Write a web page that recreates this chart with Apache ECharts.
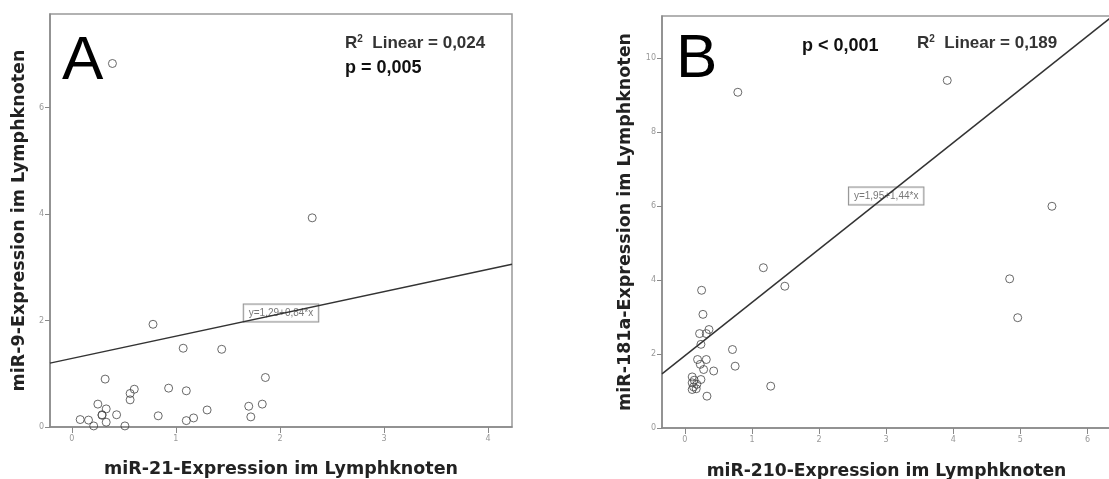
<!DOCTYPE html>
<html><head><meta charset="utf-8">
<script src="https://cdn.jsdelivr.net/npm/echarts@6/dist/echarts.min.js"></script>
<style>html,body{margin:0;padding:0;background:#fff}#c{width:1109px;height:479px}</style>
</head><body><div id="c"></div>
<script>
// Panel A data: miR-21 (x) vs miR-9 (y)
const aX = [0.39, 2.31, 0.78, 1.07, 1.44, 0.32, 1.86, 0.60, 0.56, 0.56, 0.93, 1.10, 0.25, 0.33, 0.29, 0.29, 0.43, 1.30, 1.70, 1.83, 1.72, 0.83, 1.17, 1.10, 0.08, 0.16, 0.33, 0.21, 0.51];
const aY = [6.83, 3.93, 1.93, 1.48, 1.46, 0.90, 0.93, 0.71, 0.63, 0.51, 0.73, 0.68, 0.43, 0.34, 0.23, 0.22, 0.23, 0.32, 0.39, 0.43, 0.19, 0.21, 0.17, 0.12, 0.14, 0.13, 0.09, 0.02, 0.02];
const aLineX = [-0.21, 4.23];
const aLineY = [1.20, 3.06];
const aEqPos = [2.01, 2.14];
const aEqText = 'y=1,29+0,84*x';
const aXTicks = [0, 1, 2, 3, 4];
const aYTicks = [0, 2, 4, 6];

// Panel B data: miR-210 (x) vs miR-181a (y)
const bX = [0.79, 3.91, 5.47, 1.17, 1.49, 4.84, 4.96, 0.25, 0.27, 0.36, 0.22, 0.32, 0.24, 0.71, 0.75, 0.19, 0.32, 0.23, 0.43, 0.28, 0.24, 0.11, 0.11, 0.13, 0.11, 0.17, 0.14, 0.18, 0.33, 1.28];
const bY = [9.07, 9.39, 5.99, 4.33, 3.83, 4.03, 2.98, 3.72, 3.07, 2.66, 2.55, 2.55, 2.26, 2.12, 1.67, 1.85, 1.85, 1.72, 1.54, 1.58, 1.31, 1.38, 1.22, 1.11, 1.04, 1.06, 1.29, 1.18, 0.86, 1.13];
const bLineX = [-0.34, 6.35];
const bLineY = [1.46, 11.09];
const bEqPos = [3.0, 6.27];
const bEqText = 'y=1,95+1,44*x';
const bXTicks = [0, 1, 2, 3, 4, 5, 6];
const bYTicks = [0, 2, 4, 6, 8, 10];

const zip = (xs, ys) => xs.map((x, i) => [x, ys[i]]);
const FONT = 'Liberation Sans, Arial, sans-serif';
const NFONT = 'DejaVu Sans, Verdana, sans-serif';

function xAxis(idx, min, max, ticks, name, gap, fs) {
  return {
    type: 'value', gridIndex: idx, min, max,
    name, nameLocation: 'middle', nameGap: gap,
    nameTextStyle: { fontSize: fs, fontWeight: 'bold', color: '#222', fontFamily: NFONT },
    axisLine: { show: true, onZero: false, lineStyle: { color: '#888', width: 1.5 } },
    axisTick: { show: true, customValues: ticks, length: 6, lineStyle: { color: '#888' } },
    axisLabel: { customValues: ticks, fontSize: 8, color: '#999', margin: 8, fontFamily: NFONT },
    splitLine: { show: false }
  };
}
function yAxis(idx, min, max, ticks, name, gap) {
  return {
    type: 'value', gridIndex: idx, min, max,
    name, nameLocation: 'middle', nameGap: gap,
    nameTextStyle: { fontSize: 17.5, fontWeight: 'bold', color: '#222', fontFamily: NFONT },
    axisLine: { show: true, onZero: false, lineStyle: { color: '#888', width: 1.5 } },
    axisTick: { show: true, customValues: ticks, length: 5, lineStyle: { color: '#888' } },
    axisLabel: { customValues: ticks, fontSize: 8, color: '#999', margin: 6, fontFamily: NFONT },
    splitLine: { show: false }
  };
}
function scatter(idx, data) {
  return {
    type: 'scatter', xAxisIndex: idx, yAxisIndex: idx, data, symbol: 'circle', symbolSize: 8,
    itemStyle: { color: 'rgba(0,0,0,0)', borderColor: '#444', borderWidth: 1 }, silent: true
  };
}
function line(idx, data) {
  return {
    type: 'line', xAxisIndex: idx, yAxisIndex: idx, data, symbol: 'none', clip: true,
    lineStyle: { color: '#333', width: 1.5 }, silent: true
  };
}
function eq(idx, pos, text) {
  return {
    type: 'scatter', xAxisIndex: idx, yAxisIndex: idx, data: [pos], symbolSize: 0, silent: true,
    label: { show: true, position: 'inside', formatter: text, fontSize: 10, color: '#555', fontFamily: FONT,
      backgroundColor: '#fff', borderColor: '#777', borderWidth: 1, padding: [4, 5, 3, 5] }
  };
}

const rich = {
  a: { fontSize: 17, fontWeight: 'bold', color: '#333', fontFamily: FONT },
  s: { fontSize: 10, color: '#333', fontFamily: FONT, verticalAlign: 'top', padding: [0, 0, 8, 0] }
};

const chart = echarts.init(document.getElementById('c'), null, { renderer: 'canvas' });
chart.setOption({
  animation: false,
  backgroundColor: '#fff',
  grid: [
    { left: 50, top: 14, width: 462, height: 413, show: true, borderColor: '#999', borderWidth: 1.5, backgroundColor: '#fff', outerBoundsMode: 'none', containLabel: false },
    { left: 662, top: 16, width: 449, height: 412, show: true, borderColor: '#999', borderWidth: 1.5, backgroundColor: '#fff', outerBoundsMode: 'none', containLabel: false }
  ],
  title: [
    { text: 'A', left: 62, top: 31, padding: 0, textStyle: { fontSize: 62, fontWeight: 'normal', color: '#000', fontFamily: FONT } },
    { text: '{a|R}{s|2}{a|  Linear = 0,024}', left: 345, top: 34, padding: 0, textStyle: { rich } },
    { text: 'p = 0,005', left: 345, top: 59, padding: 0, textStyle: { fontSize: 18, fontWeight: 'bold', color: '#111', fontFamily: FONT } },
    { text: 'B', left: 676, top: 29, padding: 0, textStyle: { fontSize: 62, fontWeight: 'normal', color: '#000', fontFamily: FONT } },
    { text: 'p < 0,001', left: 802, top: 37, padding: 0, textStyle: { fontSize: 18, fontWeight: 'bold', color: '#111', fontFamily: FONT } },
    { text: '{a|R}{s|2}{a|  Linear = 0,189}', left: 917, top: 34, padding: 0, textStyle: { rich } }
  ],
  xAxis: [
    xAxis(0, -0.21, 4.23, aXTicks, 'miR-21-Expression im Lymphknoten', 33, 17.5),
    xAxis(1, -0.34, 6.35, bXTicks, 'miR-210-Expression im Lymphknoten', 35, 17.2)
  ],
  yAxis: [
    yAxis(0, 0, 7.76, aYTicks, 'miR-9-Expression im Lymphknoten', 22),
    yAxis(1, 0, 11.13, bYTicks, 'miR-181a-Expression im Lymphknoten', 28)
  ],
  series: [
    line(0, zip(aLineX, aLineY)),
    scatter(0, zip(aX, aY)),
    eq(0, aEqPos, aEqText),
    line(1, zip(bLineX, bLineY)),
    scatter(1, zip(bX, bY)),
    eq(1, bEqPos, bEqText)
  ]
});
</script></body></html>
